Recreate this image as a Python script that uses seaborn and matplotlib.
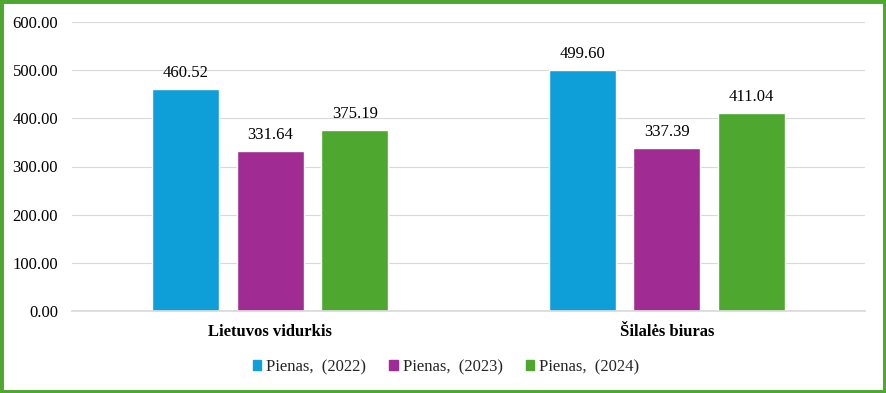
import matplotlib
matplotlib.use("Agg")
import matplotlib.pyplot as plt
import matplotlib.patches as mpatches
import pandas as pd
import seaborn as sns

categories = ["Lietuvos vidurkis", "Šilalės biuras"]
series = ["Pienas,  (2022)", "Pienas,  (2023)", "Pienas,  (2024)"]
values_2022 = [460.52, 499.60]
values_2023 = [331.64, 337.39]
values_2024 = [375.19, 411.04]
colors = ["#0E9FD8", "#A02B93", "#4EA72E"]

df = pd.DataFrame({
    "category": categories * 3,
    "series": [series[0]] * 2 + [series[1]] * 2 + [series[2]] * 2,
    "value": values_2022 + values_2023 + values_2024,
})

sns.set_theme(style="white")
plt.rcParams["font.family"] = ["Liberation Serif", "DejaVu Serif"]

fig = plt.figure(figsize=(8.86, 3.93), dpi=100)
ax = fig.add_axes([72 / 886, 1 - 311 / 393, 793 / 886, 289 / 393])

sns.barplot(data=df, x="category", y="value", hue="series", palette=colors,
            width=0.64, gap=0.21, ax=ax, legend=False, saturation=1)

for c in ax.containers:
    ax.bar_label(c, fmt="%.2f", padding=6, fontsize=12, color="#000000")

ax.set_ylim(0, 600)
ax.set_xlim(-0.5, 1.5)
ax.set_yticks(range(0, 601, 100))
ax.set_yticklabels([f"{v:.2f}" for v in range(0, 601, 100)], fontsize=12, color="#000000")
ax.set_xticks([0, 1])
ax.set_xticklabels(categories, fontsize=12, fontweight="bold", color="#000000")
ax.tick_params(axis="x", length=0, pad=9)
ax.tick_params(axis="y", length=0, pad=10)
ax.set_xlabel("")
ax.set_ylabel("")
ax.yaxis.grid(True, color="#D9D9D9", linewidth=0.8)
ax.set_axisbelow(True)
for s in ["top", "right", "left"]:
    ax.spines[s].set_visible(False)
ax.spines["bottom"].set_color("#D9D9D9")

handles = [mpatches.Patch(color=col, label=lab) for col, lab in zip(colors, series)]
fig.legend(handles=handles, loc="center", bbox_to_anchor=(446 / 886, 1 - 367 / 393),
           ncol=3, frameon=False, fontsize=12, handlelength=0.5, handleheight=0.5,
           handletextpad=0.3, columnspacing=1.4)

border = mpatches.Rectangle((0, 0), 1, 1, transform=fig.transFigure, fill=False,
                            edgecolor="#4EA72E", linewidth=5)
fig.patches.append(border)

fig.savefig("out.png", dpi=100)
